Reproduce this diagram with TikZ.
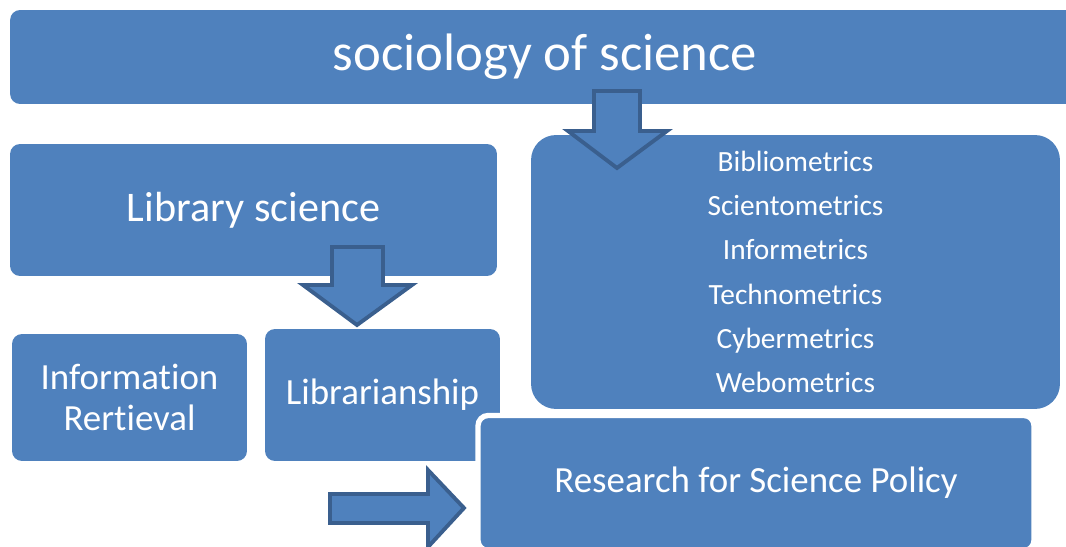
\documentclass[tikz,border=0pt]{standalone}
\usepackage{fontspec}
\setmainfont{Carlito}[Ligatures=NoCommon]
\usetikzlibrary{positioning}

\definecolor{boxblue}{HTML}{4F81BD}
\definecolor{edgeblue}{HTML}{3A5F8E}

\begin{document}
\begin{tikzpicture}[
  x=0.02cm, y=-0.02cm,
  mybox/.style={fill=boxblue,rounded corners=0.2cm,text=white,align=center,inner sep=0pt},
  myarrow/.style={fill=boxblue,draw=edgeblue,line width=2.2pt,line join=miter}
  ]
  \useasboundingbox (0,0) rectangle (1066,547);

  \node[mybox,minimum width=21.4cm,minimum height=1.88cm,
    font=\fontsize{30}{34}\selectfont] (soc) at (545,57) {sociology of science};

  \node[mybox,minimum width=9.74cm,minimum height=2.64cm,
    font=\fontsize{24}{28}\selectfont] (lib) at (253.5,210) {Library science};

  \node[mybox,rounded corners=0.5cm,minimum width=10.58cm,minimum height=5.48cm,
    font=\fontsize{16.7}{25.2}\selectfont] (metrics) at (795.5,272)
  {Bibliometrics\\Scientometrics\\Informetrics\\Technometrics\\Cybermetrics\\Webometrics};

  % arrow from sociology of science down to the metrics
  \path[myarrow] (594,91) -- (640,91) -- (640,131) -- (667,131) -- (617,168)
    -- (568,131) -- (594,131) -- cycle;

  \node[mybox,minimum width=4.7cm,minimum height=2.54cm,
    font=\fontsize{21}{23}\selectfont] (ir) at (129.5,397.5) {Information\\Rertieval};

  \node[mybox,minimum width=4.7cm,minimum height=2.64cm,
    font=\fontsize{21}{25}\selectfont] (lship) at (382.5,395) {Librarianship};

  % arrow from library science down to librarianship
  \path[myarrow] (332,247) -- (383,247) -- (383,285) -- (412,285) -- (357,325)
    -- (303,285) -- (332,285) -- cycle;

  \node[mybox,draw=white,line width=3pt,minimum width=11.12cm,minimum height=2.7cm,
    font=\fontsize{21}{25}\selectfont] (policy) at (756,483) {Research for Science Policy};

  % arrow into research for science policy
  \path[myarrow] (330,494) -- (428,494) -- (428,470) -- (464,508) -- (428,547)
    -- (428,523) -- (330,523) -- cycle;
\end{tikzpicture}
\end{document}
